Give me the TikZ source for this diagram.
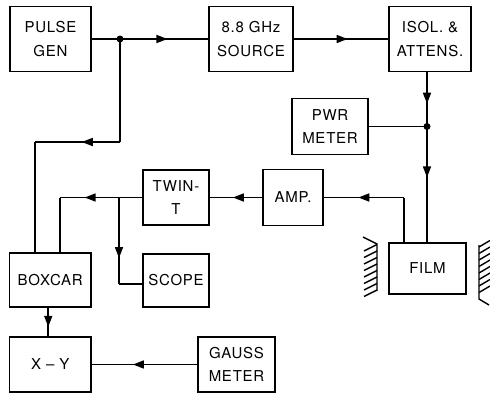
\documentclass[tikz,border=0pt]{standalone}
\usepackage{fontspec}
\newfontfamily\lbl[LetterSpace=5]{TeX Gyre Heros}
\usetikzlibrary{arrows.meta,decorations.markings}
\tikzset{
  box/.style={draw, line width=1.6pt, inner sep=0pt, align=center,
    font=\lbl\fontsize{15}{23.5}\selectfont},
  wire/.style={line width=1.6pt},
  arr/.style={postaction={decorate}, decoration={markings,
    mark=at position #1 with {\arrow{Triangle[length=11pt,width=8pt]}}}},
  dotn/.style={circle, fill, inner sep=0pt, minimum size=7pt},
  pole/.style={line width=1.4pt}
}
\begin{document}
\begin{tikzpicture}[x=1pt,y=-1pt]
\useasboundingbox (0,0) rectangle (490,394);
% boxes
\node[box, minimum width=81pt, minimum height=65pt] (pulse) at (50.5,39) {PULSE\\GEN};
\node[box, minimum width=84pt, minimum height=65pt] (src) at (251,39) {8.8 GHz\\SOURCE};
\node[box, minimum width=82pt, minimum height=65pt] (isol) at (430,39) {ISOL. \&\\ATTENS.};
\node[box, minimum width=76pt, minimum height=56pt] (pwr) at (330,126.5) {PWR\\METER};
\node[box, minimum width=66pt, minimum height=55pt] (twin) at (176,197.5) {TWIN-\\T};
\node[box, minimum width=60pt, minimum height=56pt] (amp) at (293,197.5) {AMP.};
\node[box, minimum width=77pt, minimum height=51pt] (film) at (427.5,268.5) {FILM};
\node[box, minimum width=81.5pt, minimum height=54pt] (boxcar) at (50.25,280) {BOXCAR};
\node[box, minimum width=66pt, minimum height=53pt] (scope) at (176,280.5) {SCOPE};
\node[box, minimum width=81.5pt, minimum height=55pt] (xy) at (50.25,364.5) {X – Y};
\node[box, minimum width=77pt, minimum height=55pt] (gauss) at (236.5,364.5) {GAUSS\\METER};
% junctions and bends
\node[dotn] (d1) at (120,39) {};
\node[dotn] (d2) at (427,126.5) {};
\coordinate (c1) at (120,142);
\coordinate (c2) at (35,142);
\coordinate (c3) at (404,197.5);
\coordinate (c4) at (60,197.5);
\coordinate (c5) at (119,197.5);
\coordinate (c6) at (119,284);
% connectors
\draw[wire, arr=0.65] (pulse.east) -- (src.west);
\draw[wire] (d1.center) -- (c1);
\draw[wire, arr=0.45] (c1) -- (c2);
\draw[wire] (c2) -- (c2 |- boxcar.north);
\draw[wire, arr=0.57] (src.east) -- (isol.west);
\draw[wire, arr=0.58] (isol.south -| d2.center) -- (d2.center);
\draw[wire] (pwr.east) -- (d2.center);
\draw[wire, arr=0.44] (d2.center) -- (d2.center |- film.north);
\draw[wire] (c3 |- film.north) -- (c3);
\draw[wire, arr=0.57] (c3) -- (amp.east);
\draw[wire, arr=0.56] (amp.west) -- (twin.east);
\draw[wire, arr=0.70] (twin.west) -- (c4);
\draw[wire] (c4) -- (c4 |- boxcar.north);
\draw[wire, arr=0.70] (c5) -- (c6);
\draw[wire] (c6) -- (c6 -| scope.west);
\draw[wire, arr=0.67] ([xshift=-2pt]boxcar.south) -- ([xshift=-2pt]xy.north);
\draw[wire, arr=0.61] (gauss.west) -- (xy.east);
% magnet poles
\draw[pole] (363,237) -- (377,244) -- (377,291);
\foreach \y in {251,257.5,264,270.5,277,283.5,290,296.5}
  \draw[pole] (364,\y) -- (377,\y-6.5);
\draw[pole] (479,245) -- (479,299) -- (489,305);
\foreach \y in {247,253.5,260,266.5,273,279.5,286,292.5}
  \draw[pole] (479,\y) -- (490,\y-6.5);
\end{tikzpicture}
\end{document}
